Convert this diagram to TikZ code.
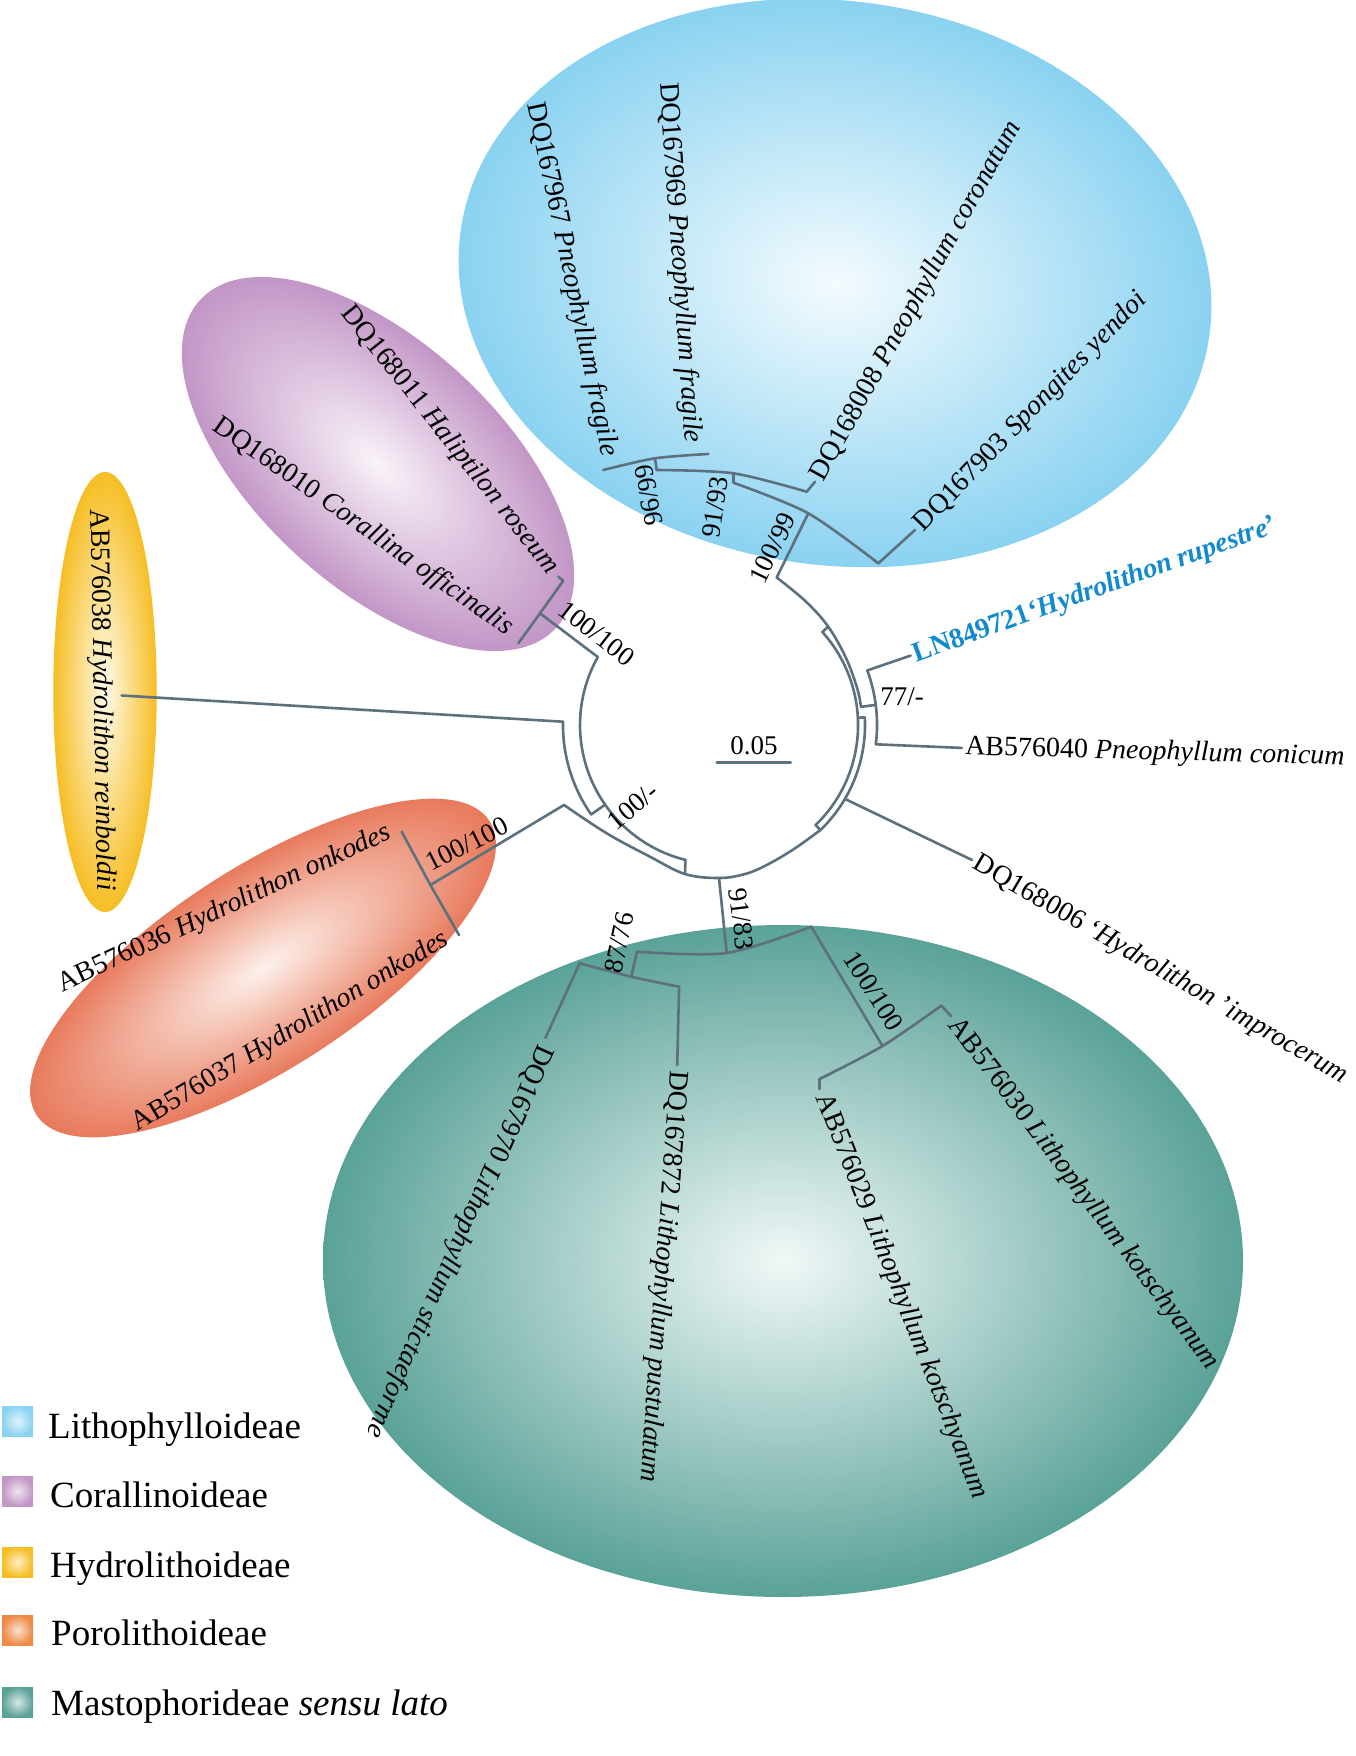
\documentclass[tikz,border=0pt]{standalone}
\usepackage{fontspec}
\setmainfont{Liberation Serif}
\usetikzlibrary{calc}
\definecolor{treec}{RGB}{92,112,126}
\definecolor{lnblue}{RGB}{18,138,205}
\definecolor{bluein}{RGB}{244,251,254}
\definecolor{blueout}{RGB}{138,210,241}
\definecolor{purin}{RGB}{249,243,249}
\definecolor{purout}{RGB}{194,150,198}
\definecolor{yelin}{RGB}{255,251,235}
\definecolor{yelout}{RGB}{246,190,36}
\definecolor{orain}{RGB}{253,241,236}
\definecolor{oraout}{RGB}{232,122,92}
\definecolor{oraleg}{RGB}{238,138,70}
\definecolor{tealin}{RGB}{240,248,247}
\definecolor{tealout}{RGB}{90,162,152}
\begin{document}
\begin{tikzpicture}[x=1pt,y=-1pt,
  br/.style={draw=treec,line width=2.6pt,line cap=round,line join=round},
  tx/.style={font=\fontsize{28}{32}\selectfont,inner sep=0pt,text=black},
  sv/.style={font=\fontsize{27}{30}\selectfont,inner sep=0pt,text=black},
  lg/.style={font=\fontsize{37}{42}\selectfont,inner sep=0pt,anchor=base west,text=black}]
\useasboundingbox (0,0) rectangle (1356,1756);
\fill[white] (0,0) rectangle (1356,1756);

% ---------- clade ellipses ----------
\shade[inner color=tealin,outer color=tealout] (783,1261) ellipse[x radius=460pt,y radius=336pt];
\begin{scope}[transform canvas={rotate around={-8:(835,283)}}]
  \shade[inner color=bluein,outer color=blueout] (835,283) ellipse[x radius=378pt,y radius=282pt];
\end{scope}
\begin{scope}[transform canvas={rotate around={-42.7:(378,464)}}]
  \shade[inner color=purin,outer color=purout] (378,464) ellipse[x radius=242pt,y radius=122pt];
\end{scope}
\begin{scope}[transform canvas={rotate around={33:(263,968)}}]
  \shade[inner color=orain,outer color=oraout] (263,968) ellipse[x radius=270pt,y radius=100pt];
\end{scope}
\shade[inner color=yelin,outer color=yelout] (105,692) ellipse[x radius=51.7pt,y radius=220pt];

% ---------- coordinates ----------
\coordinate (rc) at (597.8,657);
\coordinate (rM) at (815.6,825);
\coordinate (oM) at (820.4,830);
\coordinate (oP) at (685,874);
\coordinate (lT) at (828.2,626.6);
\coordinate (abc) at (563,721.7);
\coordinate (ringAB) at (605.1,804.7);
\coordinate (zr) at (857.8,717.7);
\coordinate (zs) at (864.8,717.4);
\coordinate (pc) at (564,805);
\coordinate (mb) at (719,878);
% Lithophylloideae
\coordinate (lb) at (776.7,577.5);
\coordinate (l99) at (808.3,513.3);
\coordinate (a1s) at (733.3,482.7);
\coordinate (a1e) at (878.3,563.3);
\coordinate (a2t) at (733.3,473.3);
\coordinate (a2s) at (656.7,470);
\coordinate (a2e) at (806.7,491.7);
\coordinate (a3t) at (655,458.3);
\coordinate (a3s) at (603.3,470);
\coordinate (a3e) at (708.3,454);
\coordinate (d08) at (815,481.7);
\coordinate (d03) at (915,530);
% 77/-
\coordinate (s77a) at (861,706.8);
\coordinate (s77b) at (875.7,704.9);
\coordinate (n77t) at (867.3,670.4);
\coordinate (n77b) at (875.8,744.3);
\coordinate (dLN) at (910.6,655.6);
\coordinate (d40) at (961.9,747.9);
\coordinate (b06) at (844.9,798.9);
\coordinate (d06) at (972,860);
% Corallinoideae
\coordinate (cn) at (540,613.3);
\coordinate (c11a) at (563.3,580.7);
\coordinate (c11b) at (558.3,576.7);
\coordinate (c10) at (518.3,643.3);
% Hydrolithoideae
\coordinate (d38) at (121.7,695.5);
% Porolithoideae
\coordinate (pn) at (430.4,885);
\coordinate (p36) at (401.7,831.7);
\coordinate (p37) at (459,935);
% Mastophoroideae
\coordinate (mn) at (726.7,953);
\coordinate (m87) at (637,951.7);
\coordinate (m100) at (811.2,926.7);
\coordinate (n87) at (631.3,976.7);
\coordinate (k70) at (579.6,963.3);
\coordinate (k72) at (679.1,986.7);
\coordinate (d70) at (545.4,1038);
\coordinate (d72) at (677.2,1065);
\coordinate (n100) at (882.5,1046);
\coordinate (k29) at (819.6,1079);
\coordinate (k30) at (941.3,1005.6);
\coordinate (d29) at (819.6,1089);
\coordinate (d30) at (951,1016);
\coordinate (sbL) at (716.7,762.3);
\coordinate (sbR) at (790.7,762.3);

% ---------- tree ----------
\draw[br] (rc) arc[start angle=150.7,end angle=256,radius=139pt] coordinate (rP);
\draw[br] (rM) arc[start angle=-46,end angle=42,radius=139pt] coordinate (rL);
\draw[br] (rP) -- (oP);
\draw[br] (rM) -- (oM);
\draw[br] (rL) -- (lT);
\draw[br] (abc) arc[start angle=178.8,end angle=215,radius=156pt] coordinate (abe);
\draw[br] (abe) -- (ringAB);
\draw[br] (zr) -- (zs);
\draw[br] (zs) arc[start angle=3,end angle=-46,radius=146pt];
\draw[br] plot[smooth,tension=0.6] coordinates {(pc) (606.7,833.3) (650,856.7) (oP) (mb) (745,874) (766.7,865) (794,849) (oM)};
\draw[br] plot[smooth,tension=0.6] coordinates {(lb) (805.6,601.3) (lT) (846,658) (857.1,688) (s77a)};
% 77/-
\draw[br] (s77a) -- (s77b);
\draw[br] (n77t) arc[start angle=20.2,end angle=-7,radius=158pt];
\draw[br] (n77t) -- (dLN);
\draw[br] (n77b) -- (d40);
\draw[br] (b06) -- (d06);
% Lithophylloideae
\draw[br] (lb) -- (l99);
\draw[br] plot[smooth] coordinates {(a1s) (l99) (a1e)};
\draw[br] (a2t) -- (a1s);
\draw[br] plot[smooth] coordinates {(a2s) (a2t) (a2e)};
\draw[br] (a3t) -- (a2s);
\draw[br] plot[smooth] coordinates {(a3s) (a3t) (a3e)};
\draw[br] (a2e) -- (d08);
\draw[br] (a1e) -- (d03);
% Corallinoideae
\draw[br] (rc) -- (cn);
\draw[br] (c11b) -- (c11a) -- (cn) -- (c10);
% Hydrolithoideae
\draw[br] (abc) -- (d38);
% Porolithoideae
\draw[br] (pc) -- (pn);
\draw[br] (p36) -- (pn) -- (p37);
% Mastophoroideae
\draw[br] (mb) -- (mn);
\draw[br] plot[smooth] coordinates {(m87) (mn) (m100)};
\draw[br] (m87) -- (n87);
\draw[br] plot[smooth] coordinates {(k70) (n87) (k72)};
\draw[br] (k70) -- (d70);
\draw[br] (k72) -- (d72);
\draw[br] (m100) -- (n100);
\draw[br] plot[smooth] coordinates {(k29) (n100) (k30)};
\draw[br] (k29) -- (d29);
\draw[br] (k30) -- (d30);
% scale bar
\draw[br] (sbL) -- (sbR);
\node[sv] (sbt) at (754,746) {0.05};

% ---------- taxon labels ----------
\node[tx,anchor=east,rotate=-78] (t67) at (609,456) {DQ167967 \textit{Pneophyllum fragile}};
\node[tx,anchor=east,rotate=-86] (t69) at (692,443) {DQ167969 \textit{Pneophyllum fragile}};
\node[tx,anchor=west,rotate=61] (t08) at (818,479) {DQ168008 \textit{Pneophyllum coronatum}};
\node[tx,anchor=west,rotate=46] (t03) at (919,528) {DQ167903 \textit{Spongites yendoi}};
\node[tx,anchor=west,rotate=19.8,text=lnblue] (tLN) at (914,656) {\textbf{LN849721‘\textit{Hydrolithon rupestre}’}};
\node[tx,anchor=west,rotate=-1.5] (t40) at (965,748) {AB576040 \textit{Pneophyllum conicum}};
\node[tx,anchor=west,rotate=-30.2] (t06) at (975,862) {DQ168006 ‘\textit{Hydrolithon} ’\textit{improcerum}};
\node[tx,anchor=west,rotate=-53] (t30) at (953,1021) {AB576030 \textit{Lithophyllum kotschyanum}};
\node[tx,anchor=west,rotate=-68.5] (t29) at (822,1095) {AB576029 \textit{Lithophyllum kotschyanum}};
\node[tx,anchor=west,rotate=-94.2] (t72) at (677.5,1071) {DQ167872 \textit{Lithophyllum pustulatum}};
\node[tx,anchor=west,rotate=-113.8] (t70) at (545,1046) {DQ167970 \textit{Lithophyllum stictaeforme}};
\node[tx,anchor=east,rotate=31] (t37) at (447,938) {AB576037 \textit{Hydrolithon onkodes}};
\node[tx,anchor=east,rotate=25] (t36) at (390,832) {AB576036 \textit{Hydrolithon onkodes}};
\node[tx,rotate=-89] (t38) at (101,700) {AB576038 \textit{Hydrolithon reinboldii}};
\node[tx,anchor=east,rotate=-35] (t10) at (510,630) {DQ168010 \textit{Corallina officinalis}};
\node[tx,anchor=east,rotate=-51.6] (t11) at (553,571) {DQ168011 \textit{Haliptilon roseum}};

% ---------- support values ----------
\node[sv,rotate=-38] (s1) at (596.7,633.3) {100/100};
\node[sv,rotate=40] (s2) at (633,806) {100/-};
\node[sv,rotate=27] (s3) at (466.7,844) {100/100};
\node[sv,rotate=64] (s4) at (772.5,548) {100/99};
\node[sv,rotate=-80] (s5) at (649,495) {66/96};
\node[sv,rotate=82] (s6) at (715,507) {91/93};
\node[sv] (s7) at (902,697) {77/-};
\node[sv,rotate=-83] (s8) at (741.5,919) {91/83};
\node[sv,rotate=78] (s9) at (619,943) {87/76};
\node[sv,rotate=-58] (s10) at (873.7,991) {100/100};

% ---------- legend ----------
\shade[inner color=white!75!blueout,outer color=blueout] (2,1406) rectangle (33,1436);
\shade[inner color=white!75!purout,outer color=purout] (2,1476) rectangle (33,1506);
\shade[inner color=white!75!yelout,outer color=yelout] (2,1547) rectangle (33,1577);
\shade[inner color=white!75!oraleg,outer color=oraleg] (2,1615) rectangle (33,1645);
\shade[inner color=white!75!tealout,outer color=tealout] (2,1687) rectangle (33,1717);
\node[lg] (lg1) at (48,1438) {Lithophylloideae};
\node[lg] (lg2) at (50,1507) {Corallinoideae};
\node[lg] (lg3) at (50,1577) {Hydrolithoideae};
\node[lg] (lg4) at (51,1645) {Porolithoideae};
\node[lg] (lg5) at (51,1715) {Mastophorideae \textit{sensu lato}};
\end{tikzpicture}
\end{document}
